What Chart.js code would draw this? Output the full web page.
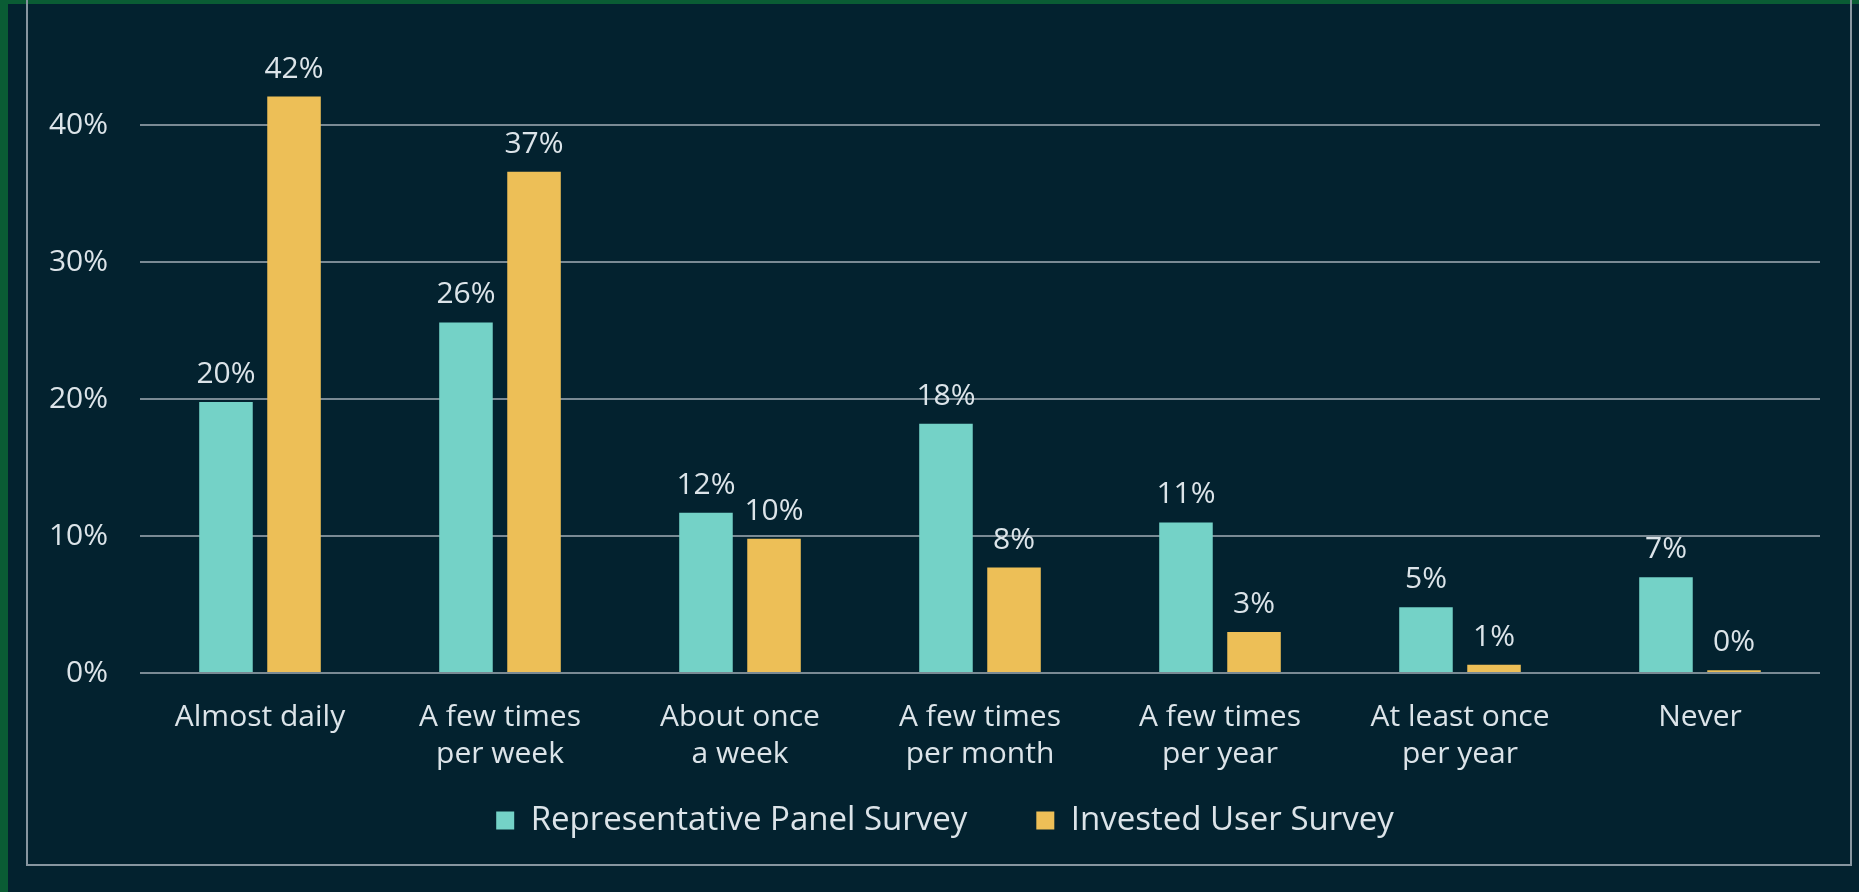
<!DOCTYPE html>
<html>
<head>
<meta charset="utf-8">
<script src="https://cdn.jsdelivr.net/npm/chart.js@4.4.0/dist/chart.umd.min.js"></script>
<style>
  html, body { margin: 0; padding: 0; }
  body { width: 1859px; height: 892px; background: #0a5c34; position: relative; overflow: hidden; }
  #panel { position: absolute; left: 8px; top: 4px; right: 0; bottom: 0; background: #03222f; }
  #frame { position: absolute; left: 26px; top: -10px; width: 1826px; height: 876px; border: 2px solid #8796a0; box-sizing: border-box; }
  #c { position: absolute; left: 0; top: 0; }
</style>
</head>
<body>
<div id="panel"></div>
<div id="frame"></div>
<canvas id="c" width="1859" height="892"></canvas>
<script>
const categories = [
  ["Almost daily"],
  ["A few times", "per week"],
  ["About once", "a week"],
  ["A few times", "per month"],
  ["A few times", "per year"],
  ["At least once", "per year"],
  ["Never"]
];
const representativePanel = [19.8, 25.6, 11.7, 18.2, 11.0, 4.8, 7.0];
const investedUser = [42.1, 36.6, 9.8, 7.7, 3.0, 0.6, 0.2];
const seriesNames = ["Representative Panel Survey", "Invested User Survey"];
const yTicks = [0, 10, 20, 30, 40];

const TEXT = '#dce4e9';
const FONT = '"Open Sans", Lato, sans-serif';

const valueLabels = {
  id: 'valueLabels',
  afterDatasetsDraw(chart) {
    const ctx = chart.ctx;
    ctx.save();
    ctx.font = '30px ' + FONT;
    ctx.fillStyle = TEXT;
    ctx.textAlign = 'center';
    ctx.textBaseline = 'alphabetic';
    chart.data.datasets.forEach((ds, di) => {
      const meta = chart.getDatasetMeta(di);
      meta.data.forEach((el, i) => {
        ctx.fillText(Math.round(ds.data[i]) + '%', el.x, el.y - 19);
      });
    });
    ctx.restore();
  }
};

// moves the legend block to the spot it occupies in the reference
const legendShift = {
  id: 'legendShift',
  afterLayout(chart) {
    const lg = chart.legend;
    if (!lg) return;
    const dx = 15, dy = -38;
    lg.left += dx; lg.right += dx;
    lg.top += dy; lg.bottom += dy;
  }
};

new Chart(document.getElementById('c'), {
  type: 'bar',
  data: {
    labels: categories,
    datasets: [
      { label: seriesNames[0], data: representativePanel, backgroundColor: '#74d2c7', borderWidth: 0,
        categoryPercentage: 0.567, barPercentage: 0.787 },
      { label: seriesNames[1], data: investedUser, backgroundColor: '#edbf57', borderWidth: 0,
        categoryPercentage: 0.567, barPercentage: 0.787 }
    ]
  },
  options: {
    responsive: false,
    devicePixelRatio: 1,
    animation: false,
    layout: { padding: { top: 0, left: 40, right: 39, bottom: 7 } },
    plugins: {
      tooltip: { enabled: false },
      legend: {
        position: 'bottom',
        labels: {
          color: TEXT,
          font: { family: FONT, size: 33 },
          boxWidth: 18,
          boxHeight: 18,
          padding: 69
        }
      }
    },
    scales: {
      x: {
        grid: { display: false, drawTicks: false },
        border: { display: false },
        ticks: {
          color: TEXT,
          font: { family: FONT, size: 30, lineHeight: 1.23 },
          padding: 26,
          maxRotation: 0,
          autoSkip: false
        },
        afterFit(scale) { scale.height = 100; }
      },
      y: {
        min: 0,
        max: 45.5,
        grid: { color: '#7a8a94', lineWidth: 2, drawTicks: false },
        border: { display: false },
        ticks: {
          color: TEXT,
          font: { family: FONT, size: 30 },
          padding: 32,
          stepSize: 10,
          callback: (v) => v + '%'
        },
        afterBuildTicks(scale) {
          scale.ticks = yTicks.map(v => ({ value: v }));
        },
        afterFit(scale) { scale.width = 100; }
      }
    }
  },
  plugins: [valueLabels, legendShift]
});
</script>
</body>
</html>
